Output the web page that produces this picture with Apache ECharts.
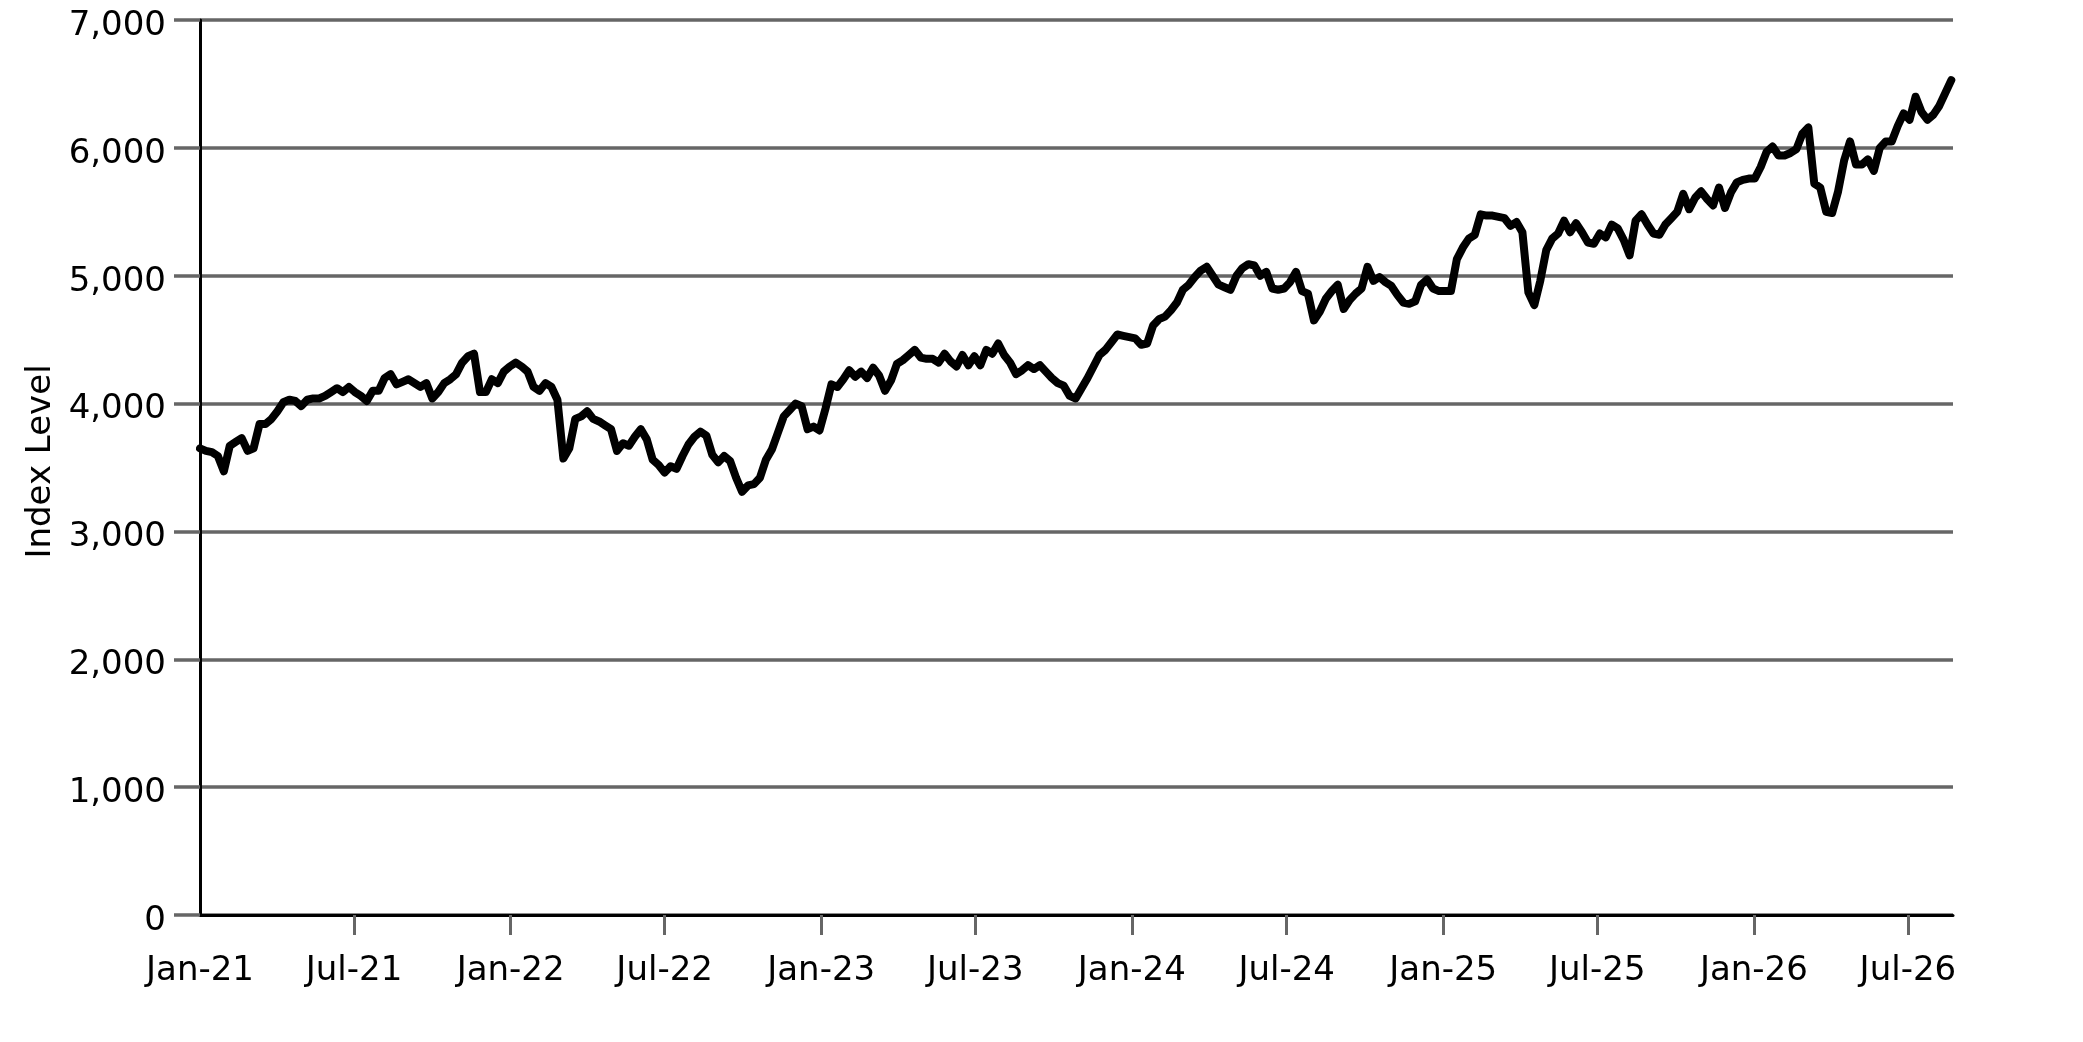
<!DOCTYPE html>
<html>
<head>
<meta charset="utf-8">
<script src="https://cdn.jsdelivr.net/npm/echarts@6/dist/echarts.min.js"></script>
<style>
html,body{margin:0;padding:0;background:#fff;}
#chart{width:2083px;height:1042px;}
</style>
</head>
<body>
<div id="chart"></div>
<script>
// Weekly index levels, first week 2021-01-01
const startDate = '2021-01-01';
const values = [
3650,3630,3620,3590,3470,3670,3700,3730,3630,3650,
3840,3840,3880,3940,4010,4030,4020,3980,4030,4040,
4040,4060,4090,4120,4090,4130,4090,4060,4020,4100,
4100,4200,4230,4150,4170,4190,4160,4130,4160,4040,
4090,4160,4190,4230,4320,4370,4390,4090,4090,4190,
4160,4250,4290,4320,4290,4250,4130,4100,4160,4130,
4030,3570,3650,3880,3900,3940,3880,3860,3830,3800,
3630,3690,3670,3740,3800,3720,3560,3520,3460,3510,
3490,3590,3680,3740,3780,3750,3600,3540,3590,3550,
3420,3310,3360,3370,3420,3560,3640,3770,3900,3950,
4000,3980,3800,3820,3790,3960,4150,4130,4190,4260,
4210,4250,4200,4280,4220,4100,4180,4310,4340,4380,
4420,4360,4350,4350,4320,4390,4330,4290,4380,4300,
4370,4300,4420,4390,4470,4380,4320,4230,4260,4300,
4270,4300,4250,4200,4160,4140,4060,4040,4120,4200,
4290,4380,4420,4480,4540,4530,4520,4510,4460,4470,
4610,4660,4680,4730,4790,4890,4930,4990,5040,5070,
5000,4930,4910,4890,5000,5060,5090,5080,5000,5030,
4900,4890,4900,4950,5030,4880,4860,4650,4720,4820,
4880,4930,4740,4810,4860,4900,5070,4960,4990,4950,
4920,4850,4790,4780,4800,4930,4970,4900,4880,4880,
4880,5130,5220,5290,5320,5480,5470,5470,5460,5450,
5390,5420,5340,4870,4770,4960,5200,5290,5330,5430,
5340,5410,5340,5260,5250,5330,5300,5400,5370,5280,
5160,5430,5480,5400,5330,5320,5400,5450,5500,5640,
5520,5610,5660,5600,5550,5690,5530,5650,5730,5750,
5760,5760,5850,5970,6010,5940,5940,5960,5990,6110,
6160,5720,5690,5500,5490,5660,5900,6050,5870,5870,
5910,5820,6000,6050,6050,6170,6270,6220,6400,6280,
6220,6260,6330,6430,6530
];
const tickDates = ['2021-01-01','2021-07-01','2022-01-01','2022-07-01','2023-01-01','2023-07-01',
  '2024-01-01','2024-07-01','2025-01-01','2025-07-01','2026-01-01','2026-07-01'];
const tickLabels = ['Jan-21','Jul-21','Jan-22','Jul-22','Jan-23','Jul-23',
  'Jan-24','Jul-24','Jan-25','Jul-25','Jan-26','Jul-26'];
const axisMin = '2021-01-01';
const axisMax = '2026-08-23';

function ts(s){ const p=s.split('-').map(Number); return Date.UTC(p[0],p[1]-1,p[2]); }
const DAY = 86400000;
const t0 = ts(startDate);
const seriesData = values.map((v,i)=>[t0 + i*7*DAY, v]);
const tickTs = tickDates.map(ts);
const labelMap = {};
tickTs.forEach((t,i)=>{ labelMap[t]=tickLabels[i]; });

const FONT = 'DejaVu Sans';
const chart = echarts.init(document.getElementById('chart'), null, {renderer:'canvas'});
chart.setOption({
  animation:false,
  backgroundColor:'#ffffff',
  grid:{left:200,right:130,top:20,bottom:127,containLabel:false},
  xAxis:{
    type:'value',
    min:ts(axisMin),
    max:ts(axisMax),
    axisLine:{show:true,onZero:false,lineStyle:{color:'#000',width:3}},
    axisTick:{show:true,length:20,inside:false,customValues:tickTs.slice(1),lineStyle:{color:'#666',width:3}},
    axisLabel:{show:true,customValues:tickTs,margin:39,color:'#000',fontFamily:FONT,fontSize:34,
      formatter:function(v){ return labelMap[v] || ''; }},
    splitLine:{show:false}
  },
  yAxis:{
    type:'value',
    min:0,max:7000,interval:1000,
    name:'Index Level',
    nameLocation:'middle',
    nameGap:142,
    nameRotate:90,
    nameTextStyle:{color:'#000',fontFamily:FONT,fontSize:34,padding:[0,0,0,12]},
    axisLine:{show:true,lineStyle:{color:'#000',width:3}},
    axisTick:{show:true,length:26,lineStyle:{color:'#666',width:3.5}},
    axisLabel:{margin:34,color:'#000',fontFamily:FONT,fontSize:34,
      formatter:function(v){ return '{v|' + v.toLocaleString('en-US') + '}'; },
      rich:{v:{fontFamily:FONT,fontSize:34,color:'#000',padding:[12,0,0,0]}}},
    splitLine:{show:true,lineStyle:{color:'#666',width:3.5}}
  },
  series:[{
    type:'line',
    data:seriesData,
    showSymbol:false,
    symbol:'none',
    lineStyle:{color:'#000',width:8,join:'round',cap:'round'},
    clip:false
  }]
});
</script>
</body>
</html>
